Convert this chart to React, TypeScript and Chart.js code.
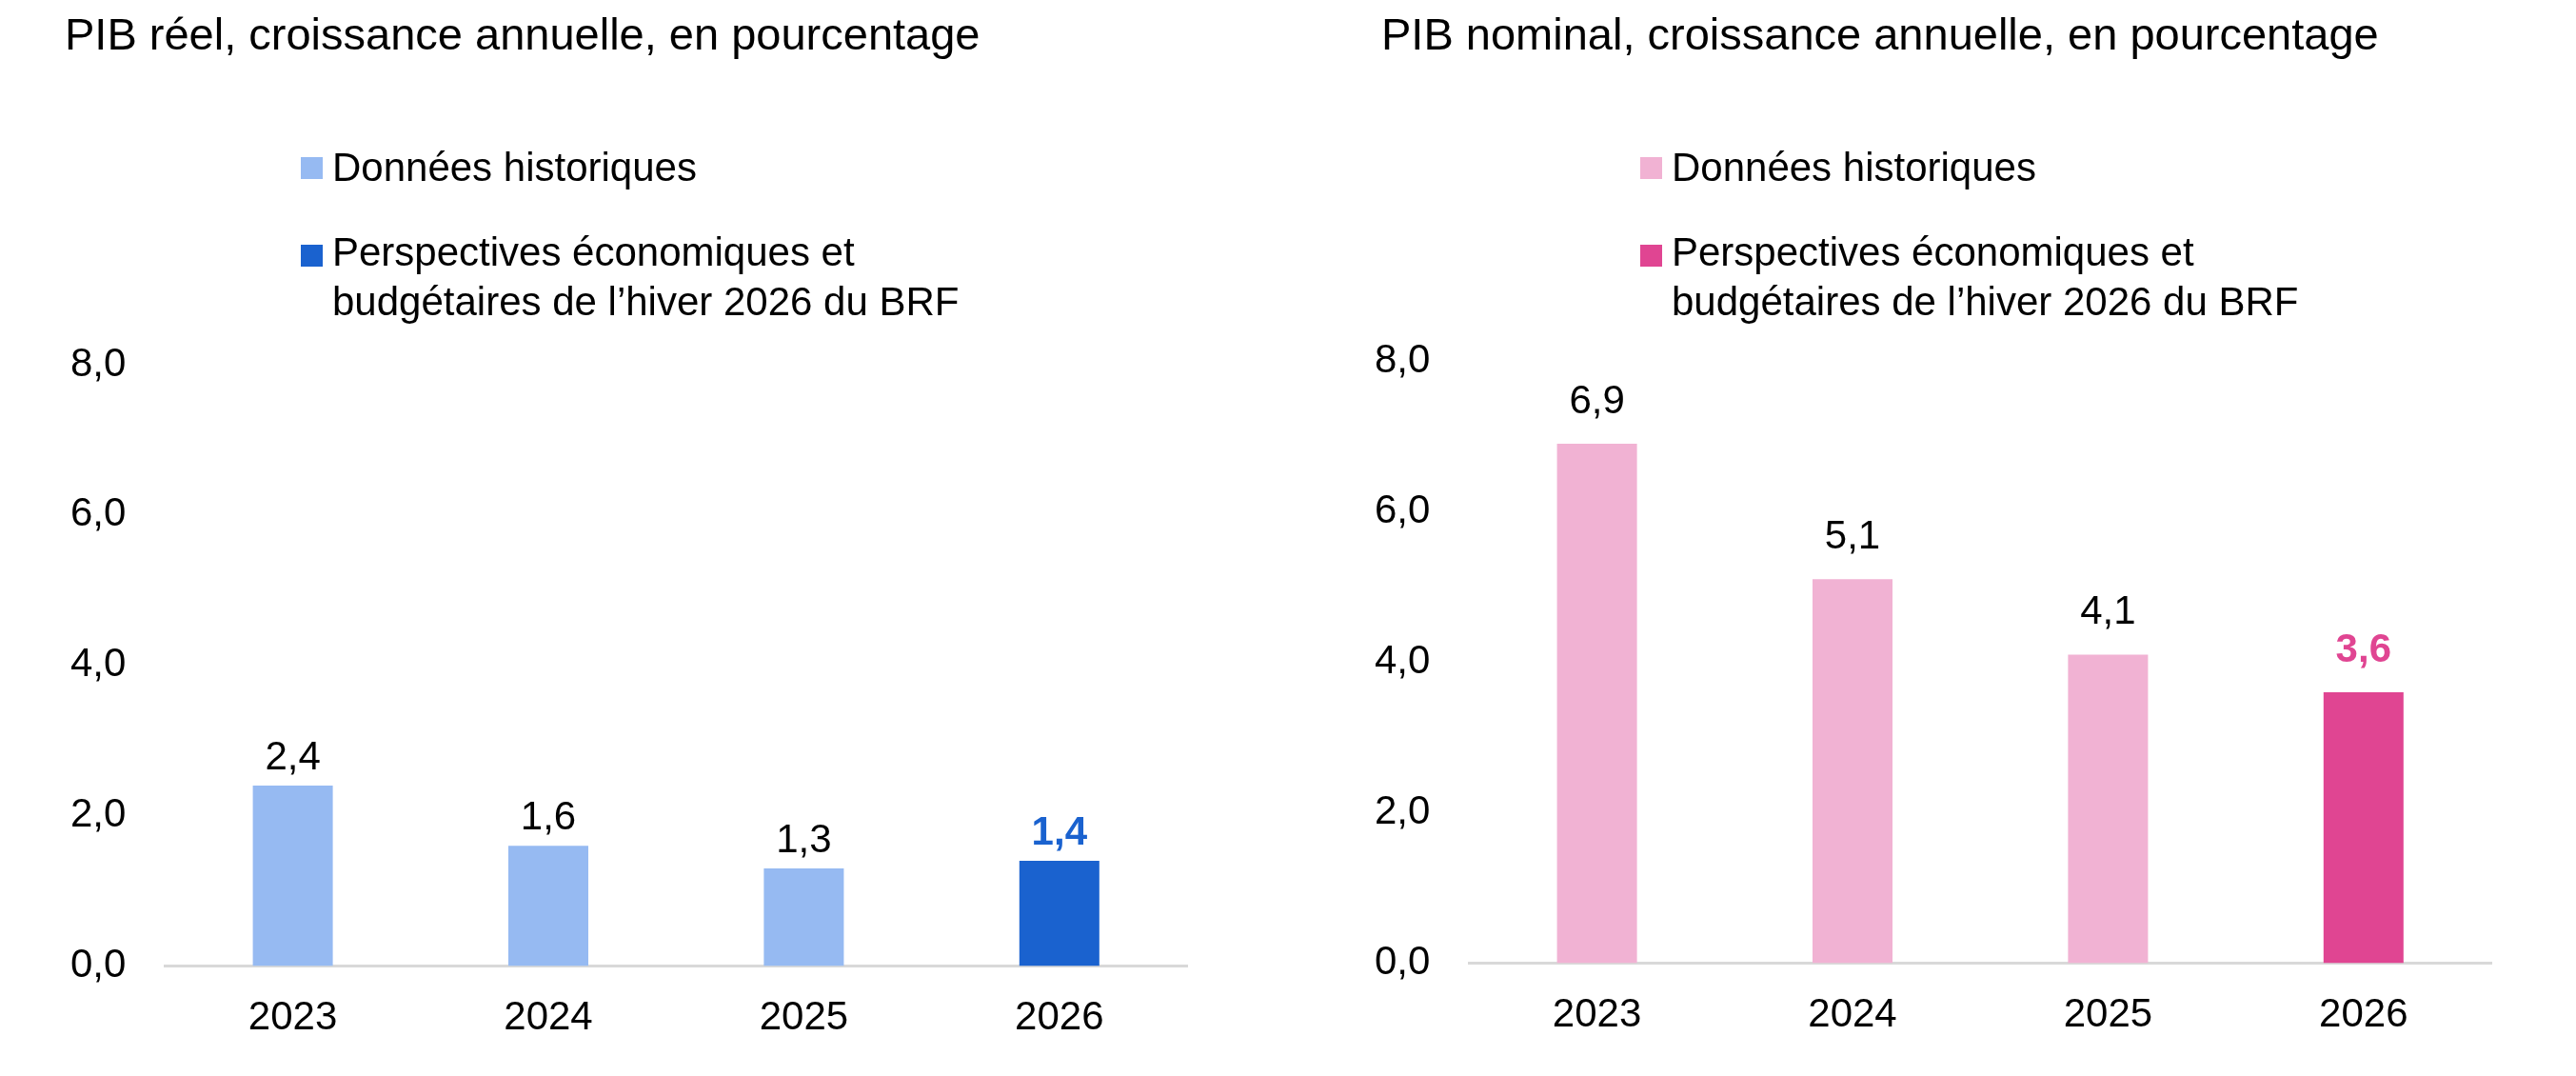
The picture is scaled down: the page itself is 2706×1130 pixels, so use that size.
import { useEffect, useRef } from 'react'
import { Chart, registerables } from 'chart.js'

Chart.register(...registerables)

const FONT = '"Liberation Sans", Arial, Helvetica, sans-serif'
Chart.defaults.font.family = FONT

// values
const YEARS = ['2023', '2024', '2025', '2026']
const Y_TICKS = [0, 2, 4, 6, 8]

const REAL_HIST = [2.4, 1.6, 1.3, null]
const REAL_OUTLOOK = [null, null, null, 1.4]

const NOMINAL_HIST = [6.9, 5.1, 4.1, null]
const NOMINAL_OUTLOOK = [null, null, null, 3.6]

const LEGEND_HIST = 'Données historiques'
const LEGEND_OUTLOOK = ['Perspectives économiques et', 'budgétaires de l’hiver 2026 du BRF']

const fmt = (v: number) => v.toFixed(1).replace('.', ',')

type PanelProps = {
  left: number
  title: string
  titleX: number
  legendX: number
  hist: (number | null)[]
  outlook: (number | null)[]
  histColor: string
  outlookColor: string
  padTop: number
  padBottom: number
  labelGap: number
}

function Panel(p: PanelProps) {
  const canvasRef = useRef<HTMLCanvasElement>(null)
  const chartRef = useRef<Chart | null>(null)

  useEffect(() => {
    if (!canvasRef.current) return
    chartRef.current?.destroy()

    // value labels above each bar, outlook one in bold colour
    const valueLabels = {
      id: 'valueLabels',
      afterDatasetsDraw(chart: Chart) {
        const ctx = chart.ctx
        ctx.save()
        ctx.textAlign = 'center'
        ctx.textBaseline = 'alphabetic'
        chart.data.datasets.forEach((ds, di) => {
          const meta = chart.getDatasetMeta(di)
          meta.data.forEach((bar, i) => {
            const v = ds.data[i] as number | null
            if (v == null) return
            const outlook = di === 1
            ctx.font = `${outlook ? 'bold ' : ''}42px ${FONT}`
            ctx.fillStyle = outlook ? p.outlookColor : '#000'
            ctx.fillText(fmt(v), bar.x, bar.y - p.labelGap)
          })
        })
        ctx.restore()
      },
    }

    chartRef.current = new Chart(canvasRef.current, {
      type: 'bar',
      data: {
        labels: YEARS,
        datasets: [
          { label: LEGEND_HIST, data: p.hist, backgroundColor: p.histColor },
          { label: LEGEND_OUTLOOK.join(' '), data: p.outlook, backgroundColor: p.outlookColor },
        ],
      },
      options: {
        animation: false,
        responsive: true,
        maintainAspectRatio: false,
        layout: { padding: { left: 33, right: 89, top: p.padTop, bottom: p.padBottom } },
        datasets: { bar: { barPercentage: 0.313, categoryPercentage: 1 } },
        plugins: { legend: { display: false }, tooltip: { enabled: false }, title: { display: false } },
        scales: {
          x: {
            stacked: true,
            grid: { display: false, drawTicks: false },
            border: { display: true, color: '#D9D9D9', width: 3 },
            ticks: { color: '#000', font: { size: 42 }, padding: 30 },
          },
          y: {
            stacked: true,
            min: 0,
            max: 8,
            afterBuildTicks: s => { s.ticks = Y_TICKS.map(v => ({ value: v })) },
            grid: { display: false, drawTicks: false },
            border: { display: false },
            ticks: { color: '#000', font: { size: 42 }, padding: 41, callback: v => fmt(Number(v)) },
          },
        },
      },
      plugins: [valueLabels],
    })

    return () => chartRef.current?.destroy()
  }, [])

  const sq = (c: string, top: number) => (
    <span style={{ position: 'absolute', left: 0, top, width: 23, height: 23, background: c }} />
  )

  return (
    <div style={{ position: 'absolute', left: p.left, top: 0, width: 1336, height: 1130 }}>
      <canvas ref={canvasRef} />
      <div style={{ position: 'absolute', left: p.titleX, top: 12, font: `47px/47px ${FONT}`, color: '#000', whiteSpace: 'nowrap' }}>
        {p.title}
      </div>
      <div style={{ position: 'absolute', left: p.legendX, top: 150, font: `42px/52px ${FONT}`, color: '#000', whiteSpace: 'nowrap' }}>
        {sq(p.histColor, 15)}
        <div style={{ paddingLeft: 33 }}>{LEGEND_HIST}</div>
      </div>
      <div style={{ position: 'absolute', left: p.legendX, top: 239, font: `42px/52px ${FONT}`, color: '#000', whiteSpace: 'nowrap' }}>
        {sq(p.outlookColor, 18)}
        <div style={{ paddingLeft: 33 }}>
          {LEGEND_OUTLOOK[0]}
          <br />
          {LEGEND_OUTLOOK[1]}
        </div>
      </div>
    </div>
  )
}

export default function App() {
  return (
    <div style={{ position: 'absolute', left: 0, top: 0, width: 2706, height: 1130, background: '#fff', overflow: 'hidden' }}>
      <Panel
        left={0}
        title="PIB réel, croissance annuelle, en pourcentage"
        titleX={68}
        legendX={316}
        hist={REAL_HIST}
        outlook={REAL_OUTLOOK}
        histColor="#96BAF2"
        outlookColor="#1A62CF"
        padTop={383}
        padBottom={5}
        labelGap={17}
      />
      <Panel
        left={1370}
        title="PIB nominal, croissance annuelle, en pourcentage"
        titleX={81}
        legendX={353}
        hist={NOMINAL_HIST}
        outlook={NOMINAL_OUTLOOK}
        histColor="#F1B2D3"
        outlookColor="#E04592"
        padTop={379}
        padBottom={8}
        labelGap={32}
      />
    </div>
  )
}
